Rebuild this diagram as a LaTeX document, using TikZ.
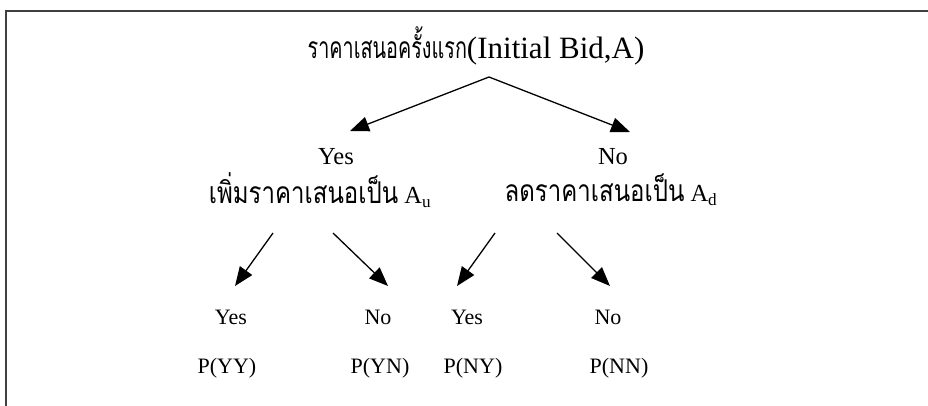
\documentclass[tikz,border=0pt]{standalone}
\usepackage{fontspec}
\setmainfont{Liberation Serif}
\newfontfamily\thaititle[Script=Thai,FakeStretch=0.66]{Loma}
\newfontfamily\thaimid[Script=Thai,FakeStretch=0.8]{Loma}
\usetikzlibrary{arrows.meta}
\tikzset{
  lbl/.style={inner sep=0pt, font=\fontsize{22}{25}\selectfont},
  mid/.style={inner sep=0pt, font=\fontsize{24.5}{28}\selectfont},
  ttl/.style={inner sep=0pt, font=\fontsize{31}{36}\selectfont},
  arr/.style={line width=1.3pt, -{Triangle[length=19pt,width=15pt]}},
}
\begin{document}
\begin{tikzpicture}[x=1pt,y=-1pt]
\useasboundingbox (0,0) rectangle (928,405);
\draw[line width=2pt, black!75] (6,11) rectangle (940,420);
\node[ttl] (root) at (476,46) {{\thaititle\fontsize{30}{34}\selectfont ราคาเสนอครั้งแรก}(Initial Bid,A)};
\coordinate (apex) at (489,77);
\coordinate (tl) at (350,131);
\coordinate (tr) at (630,132);
\draw[arr] (apex) -- (tl);
\draw[arr] (apex) -- (tr);
\node[mid] (yes1) at (336,157) {Yes};
\node[mid] (no1) at (613,157) {No};
\node[mid] (incr) at (320,190) {{\thaimid\fontsize{30}{32}\selectfont เพิ่มราคาเสนอเป็น} A\textsubscript{u}};
\node[mid] (decr) at (611,190) {{\thaimid\fontsize{30}{32}\selectfont ลดราคาเสนอเป็น} A\textsubscript{d}};
\coordinate (s1) at (273,233); \coordinate (t1) at (235,286);
\coordinate (s2) at (333,233); \coordinate (t2) at (388,286);
\coordinate (s3) at (495,233); \coordinate (t3) at (457,286);
\coordinate (s4) at (557,233); \coordinate (t4) at (610,286);
\draw[arr] (s1) -- (t1);
\draw[arr] (s2) -- (t2);
\draw[arr] (s3) -- (t3);
\draw[arr] (s4) -- (t4);
\node[lbl] (yy) at (231,317) {Yes};
\node[lbl] (yn) at (378,317) {No};
\node[lbl] (ny) at (467,317) {Yes};
\node[lbl] (nn) at (608,317) {No};
\node[lbl] (pyy) at (227,368) {P(YY)};
\node[lbl] (pyn) at (380,368) {P(YN)};
\node[lbl] (pny) at (473,368) {P(NY)};
\node[lbl] (pnn) at (619,368) {P(NN)};
\end{tikzpicture}
\end{document}
